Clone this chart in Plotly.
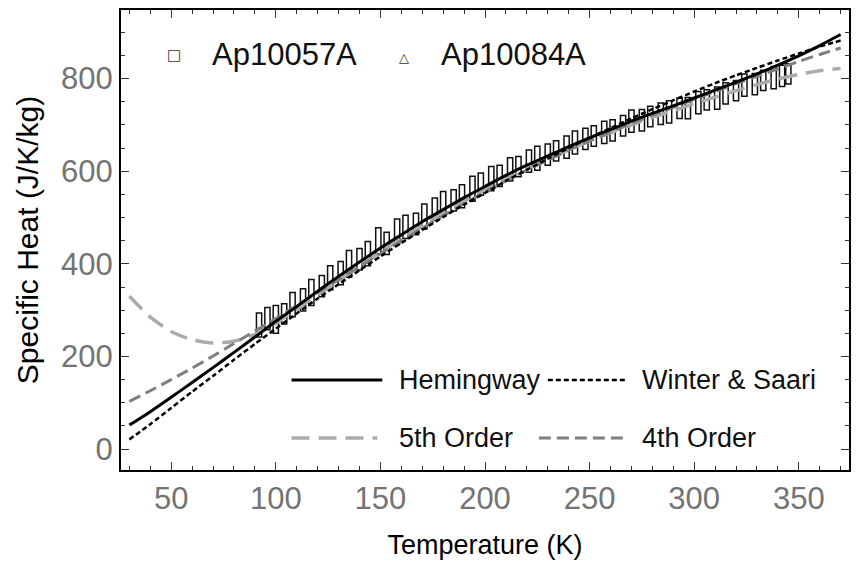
import plotly.graph_objects as go

# ---------------- data ----------------
T_curve = [30, 40, 50, 60, 70, 80, 90, 100, 110, 120, 130, 140, 150, 160, 170, 180,
           190, 200, 210, 220, 230, 240, 250, 260, 270, 280, 290, 300, 310, 320, 330,
           340, 350, 360, 370]
hemingway = [52, 81, 112, 144, 176, 209, 242, 276, 308, 341, 373, 404, 434, 463, 491, 517,
             543, 567, 591, 613, 633, 653, 672, 690, 708, 725, 741, 758, 775, 792, 810,
             829, 849, 871, 895]
winter_saari = [21, 54, 89, 124, 158, 193, 227, 260, 293, 325, 356, 386, 416, 445, 473, 501,
                528, 553, 579, 603, 627, 650, 672, 693, 714, 734, 753, 772, 790, 807, 823,
                839, 854, 869, 882]
order5 = [330, 285, 254, 236, 229, 233, 248, 272, 302, 333, 364, 395, 425, 454, 482, 509,
          535, 560, 583, 605, 626, 646, 665, 683, 700, 716, 731, 746, 760, 774, 787,
          799, 809, 817, 822]
order4 = [103, 126, 150, 175, 201, 228, 255, 282, 310, 338, 366, 394, 422, 450, 477, 504,
          530, 555, 579, 602, 624, 645, 665, 684, 703, 721, 738, 755, 772, 789, 805,
          821, 837, 852, 866]

T_data = [92, 96, 100, 104, 108, 113, 117, 122, 126, 131, 135, 140, 144, 149, 153, 158,
          162, 167, 171, 176, 180, 185, 189, 194, 198, 203, 207, 212, 216, 221, 225, 230,
          234, 239, 243, 248, 252, 257, 261, 266, 270, 275, 279, 284, 288, 293, 297, 302,
          306, 311, 315, 320, 324, 329, 333, 338, 342, 345]
cp_data = [268, 282, 280, 292, 312, 322, 338, 352, 370, 380, 400, 410, 422, 450, 444, 470,
           480, 486, 502, 518, 530, 537, 546, 562, 572, 584, 590, 604, 610, 622, 628, 636,
           644, 652, 662, 670, 676, 684, 688, 698, 708, 710, 718, 724, 728, 736, 736, 748,
           754, 758, 768, 774, 786, 788, 796, 802, 806, 810]
cp_err = [26, 24, 30, 22, 26, 24, 28, 23, 26, 25, 29, 23, 26, 28, 24, 27,
          25, 23, 27, 24, 26, 23, 25, 27, 24, 26, 23, 25, 22, 24, 26, 23,
          22, 24, 25, 23, 22, 24, 23, 22, 24, 23, 22, 23, 24, 22, 23, 24,
          22, 24, 23, 22, 24, 23, 22, 24, 23, 22]

x_ticks = [50, 100, 150, 200, 250, 300, 350]
y_ticks = [0, 200, 400, 600, 800]

# ---------------- layout geometry ----------------
W, H = 857, 562
ML, MR, MT, MB = 121, 6, 10, 92
PW, PH = W - ML - MR, H - MT - MB


def px(x):
    return (x - ML) / PW


def py(y):
    return (H - MB - y) / PH


fig = go.Figure()

# data rectangles (Ap10057A)
fig.add_trace(go.Bar(
    x=T_data,
    y=[2 * e for e in cp_err],
    base=[c - e for c, e in zip(cp_data, cp_err)],
    width=2.5,
    marker=dict(color="rgba(255,255,255,0)", line=dict(color="#111111", width=1.5)),
    showlegend=False, hoverinfo="skip",
))

curve_styles = [
    (order5, "#ababab", 3.5, "18px,9px"),
    (order4, "#7f7f7f", 3.0, "12px,6px"),
    (winter_saari, "#000000", 2.5, "5px,3px"),
    (hemingway, "#000000", 3.0, "solid"),
]
for vals, col, w, dash in curve_styles:
    fig.add_trace(go.Scatter(
        x=T_curve, y=vals, mode="lines",
        line=dict(color=col, width=w, dash=dash, shape="spline", smoothing=0.6),
        showlegend=False, hoverinfo="skip",
    ))

# ---------------- manual legends ----------------
shapes = []
annotations = []

leg_lines = [
    (292, 383, 380, "#000000", 3.0, "solid", 398, "Hemingway"),
    (549, 628, 380, "#000000", 2.5, "5px,3px", 641, "Winter & Saari"),
    (292, 378, 438, "#ababab", 3.5, "18px,9px", 398, "5th Order"),
    (540, 625, 438, "#7f7f7f", 3.0, "12px,6px", 641, "4th Order"),
]
for x0, x1, yy, col, w, dash, tx, label in leg_lines:
    shapes.append(dict(type="line", xref="paper", yref="paper",
                       x0=px(x0), x1=px(x1), y0=py(yy), y1=py(yy),
                       line=dict(color=col, width=w, dash=dash)))
    annotations.append(dict(xref="paper", yref="paper", x=px(tx), y=py(yy),
                            xanchor="left", yanchor="middle", showarrow=False,
                            text=label, font=dict(size=27, color="#111111")))

for sx, sy, sym, ssize, tx, label in [
    (174, 55, "□", 15, 210, "Ap10057A"),
    (405, 58, "△", 13, 440, "Ap10084A"),
]:
    annotations.append(dict(xref="paper", yref="paper", x=px(sx), y=py(sy),
                            xanchor="center", yanchor="middle", showarrow=False,
                            text=sym, font=dict(size=ssize, color="#333333",
                                                family="DejaVu Sans")))
    annotations.append(dict(xref="paper", yref="paper", x=px(tx), y=py(55),
                            xanchor="left", yanchor="middle", showarrow=False,
                            text=label, font=dict(size=31, color="#111111")))

axis_common = dict(
    showline=True, linecolor="#000000", linewidth=2, mirror="allticks",
    ticks="inside", ticklen=8, tickwidth=1, tickcolor="#333333",
    showgrid=False, zeroline=False,
    tickfont=dict(size=31, color="#737373"),
)

fig.update_layout(
    width=W, height=H,
    margin=dict(l=ML, r=MR, t=MT, b=MB),
    paper_bgcolor="white", plot_bgcolor="white",
    font=dict(family="Liberation Sans, Arial, sans-serif"),
    barmode="overlay",
    xaxis=dict(range=[26, 374], tickvals=x_ticks,
               minor=dict(dtick=10, ticklen=4, ticks="inside", tickcolor="#333333"),
               title=dict(text="Temperature (K)", font=dict(size=27, color="#000000"),
                          standoff=20),
               **axis_common),
    yaxis=dict(range=[-45, 948], tickvals=y_ticks,
               minor=dict(dtick=50, ticklen=4, ticks="inside", tickcolor="#333333"),
               title=dict(text="Specific Heat (J/K/kg)", font=dict(size=30, color="#000000"),
                          standoff=14),
               **axis_common),
    shapes=shapes,
    annotations=annotations,
)

fig.write_html("out.html")
